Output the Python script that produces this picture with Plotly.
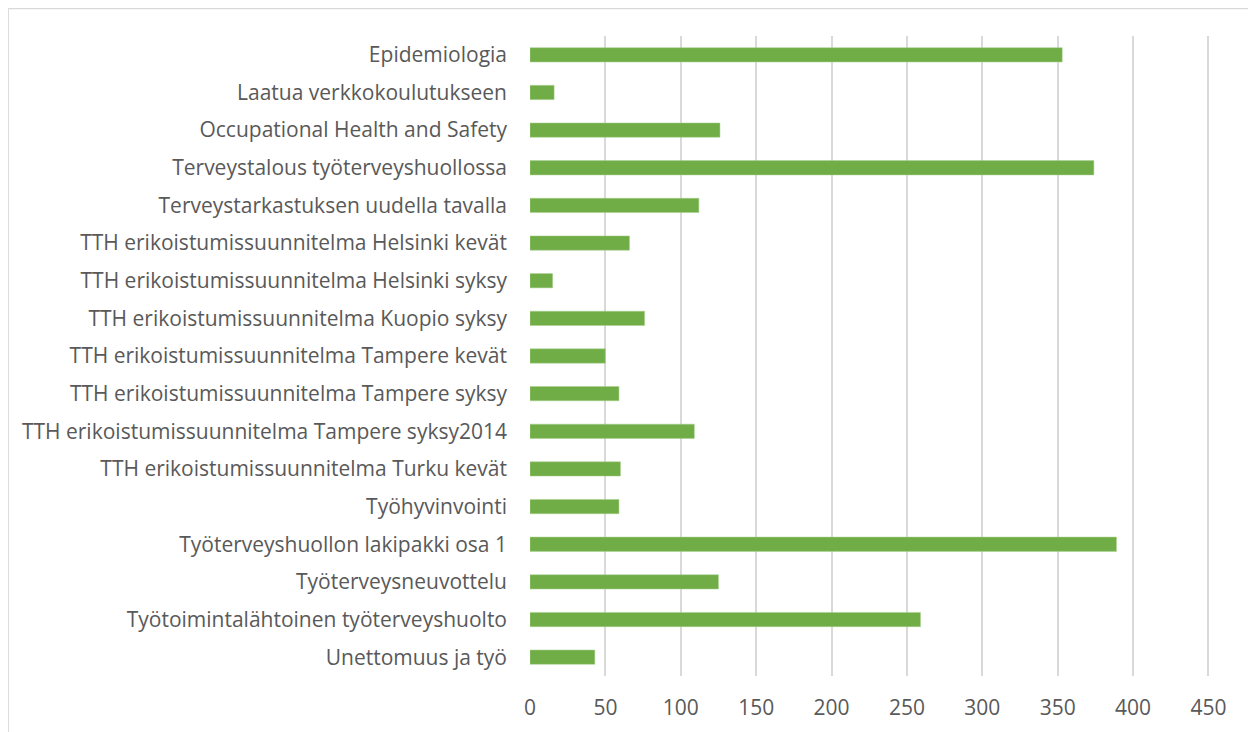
import plotly.graph_objects as go

categories = [
    "Epidemiologia",
    "Laatua verkkokoulutukseen",
    "Occupational Health and Safety",
    "Terveystalous työterveyshuollossa",
    "Terveystarkastuksen uudella tavalla",
    "TTH erikoistumissuunnitelma Helsinki kevät",
    "TTH erikoistumissuunnitelma Helsinki syksy",
    "TTH erikoistumissuunnitelma Kuopio syksy",
    "TTH erikoistumissuunnitelma Tampere kevät",
    "TTH erikoistumissuunnitelma Tampere syksy",
    "TTH erikoistumissuunnitelma Tampere syksy2014",
    "TTH erikoistumissuunnitelma Turku kevät",
    "Työhyvinvointi",
    "Työterveyshuollon lakipakki osa 1",
    "Työterveysneuvottelu",
    "Työtoimintalähtoinen työterveyshuolto",
    "Unettomuus ja työ",
]
values = [353, 16, 126, 374, 112, 66, 15, 76, 50, 59, 109, 60, 59, 389, 125, 259, 43]
x_ticks = [0, 50, 100, 150, 200, 250, 300, 350, 400, 450]

# The page adds an 8px body margin, so figure coordinates = screen - 8
W, H = 1256, 732
X_MAX = 455
L, T = 522, 28
PX_PER_UNIT = 678 / 450
PLOT_RIGHT, PLOT_BOTTOM = L + X_MAX * PX_PER_UNIT, 668
R, B = W - PLOT_RIGHT, H - PLOT_BOTTOM
pw, ph = PLOT_RIGHT - L, PLOT_BOTTOM - T

def px_to_paper_x(px):
    return (px - L) / pw

def px_to_paper_y(py):
    return (PLOT_BOTTOM - py) / ph

font_family = "Open Sans, Noto Sans, sans-serif"
text_color = "#595959"

fig = go.Figure(
    go.Bar(
        x=values,
        y=categories,
        orientation="h",
        marker=dict(color="#70AD47", line=dict(color="#A9D18E", width=0.5)),
    )
)

border = "#D9D9D9"
x0, x1 = px_to_paper_x(0.5), px_to_paper_x(1245)
y0, y1 = px_to_paper_y(740), px_to_paper_y(0.5)
for (ax, ay, bx, by) in [(x0, y0, x0, y1), (x0, y1, x1, y1), (x1, y1, x1, y0)]:
    fig.add_shape(type="line", xref="paper", yref="paper", x0=ax, y0=ay, x1=bx, y1=by,
                  line=dict(color=border, width=1.5))

fig.update_layout(
    width=W,
    height=H,
    margin=dict(l=L, r=R, t=T, b=B, autoexpand=False),
    paper_bgcolor="white",
    plot_bgcolor="white",
    bargap=0.62,
    showlegend=False,
    font=dict(family=font_family, size=21, color=text_color),
    xaxis=dict(
        range=[0, X_MAX],
        tickvals=x_ticks,
        showgrid=True,
        gridcolor="#D9D9D9",
        gridwidth=1.5,
        zeroline=False,
        showline=False,
        ticks="",
        ticklabelstandoff=17,
        tickfont=dict(size=21, color=text_color),
    ),
    yaxis=dict(
        categoryorder="array",
        categoryarray=categories,
        autorange="reversed",
        showgrid=False,
        zeroline=False,
        showline=False,
        ticks="",
        ticklabelstandoff=22,
        tickfont=dict(size=21, color=text_color),
    ),
)

fig.write_html("out.html")
